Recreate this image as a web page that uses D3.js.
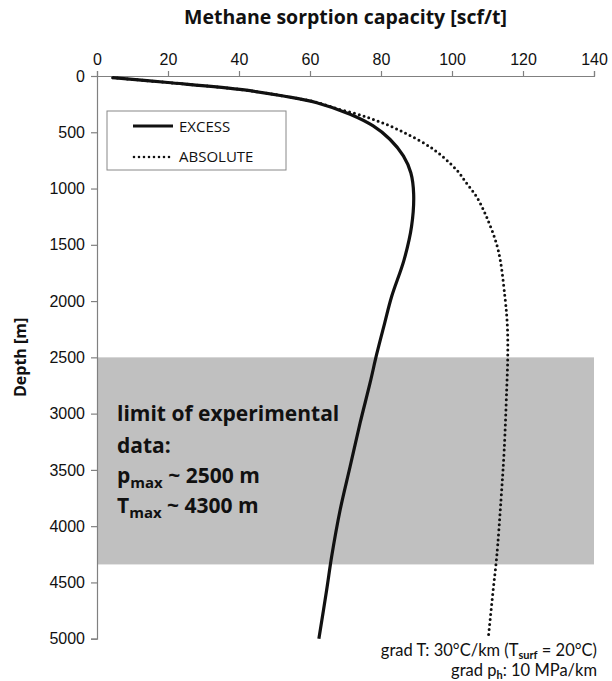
<!DOCTYPE html>
<html lang="en">
<head>
<meta charset="UTF-8">
<title>Methane sorption capacity vs depth</title>
<script src="https://d3js.org/d3.v7.min.js"></script>
<style>
  body { margin: 0; background: #fff; }
  svg { font-family: "Open Sans", "Liberation Sans", sans-serif; }
  .axis path, .axis line { stroke: #808080; stroke-width: 1.2px; }
  .axis text { font-size: 16px; fill: #111; }
</style>
</head>
<body>
<svg width="612" height="681"></svg>
<script>
// x ticks (scf/t) and y ticks (depth, m)
const xTicks = [0, 20, 40, 60, 80, 100, 120, 140];
const yTicks = [0, 500, 1000, 1500, 2000, 2500, 3000, 3500, 4000, 4500, 5000];

// EXCESS sorption capacity
const excessDepth = [15, 58, 124, 178, 237, 340, 444, 562, 710, 860, 1050, 1338, 1634, 1960, 2200, 2470, 2730, 3085, 3470, 3854, 4270, 4565, 5000];
const excessValue = [4.4, 20, 41.5, 52.5, 61.9, 71.3, 77.8, 82.5, 86.3, 88.4, 89.2, 88.6, 86.5, 83.0, 81.0, 78.8, 76.9, 74.1, 71.3, 68.5, 66.1, 64.7, 62.5];

// ABSOLUTE sorption capacity
const absoluteDepth = [15, 58, 124, 178, 237, 281, 365, 485, 650, 835, 953, 1072, 1249, 1545, 1960, 2226, 2493, 2790, 3322, 3766, 4270, 4565, 5000];
const absoluteValue = [4.4, 20, 41.5, 52.5, 62.3, 66.6, 76.0, 85.4, 94.7, 101.3, 104.1, 106.9, 109.7, 113.0, 114.9, 115.6, 115.7, 115.4, 114.7, 113.8, 112.6, 111.6, 110.2];

// limit of experimental data (depth band)
const bandDepth = [2500, 4340];

const svg = d3.select("svg");

const x = d3.scaleLinear().domain([0, 140]).range([97, 594]);
const y = d3.scaleLinear().domain([0, 5000]).range([76, 638.7]);

// grey band
svg.append("rect")
  .attr("x", x(0))
  .attr("y", y(bandDepth[0]))
  .attr("width", x(140) - x(0))
  .attr("height", y(bandDepth[1]) - y(bandDepth[0]))
  .attr("fill", "#c0c0c0");

// band text
const bandText = svg.append("g")
  .attr("font-weight", "bold")
  .attr("font-size", 21)
  .attr("fill", "#111");
bandText.append("text").attr("x", 117).attr("y", 421).text("limit of experimental");
bandText.append("text").attr("x", 117).attr("y", 453).text("data:");
const t3 = bandText.append("text").attr("x", 117).attr("y", 483);
t3.append("tspan").text("p");
t3.append("tspan").attr("font-size", 15).attr("dy", 5).text("max");
t3.append("tspan").attr("dy", -5).text(" ~ 2500 m");
const t4 = bandText.append("text").attr("x", 117).attr("y", 513);
t4.append("tspan").text("T");
t4.append("tspan").attr("font-size", 15).attr("dy", 5).text("max");
t4.append("tspan").attr("dy", -5).text(" ~ 4300 m");

// axes
svg.append("g")
  .attr("class", "axis")
  .attr("transform", `translate(0,${y(0)})`)
  .call(d3.axisTop(x).tickValues(xTicks).tickSize(5).tickSizeOuter(5).tickPadding(6));

svg.append("g")
  .attr("class", "axis")
  .attr("transform", `translate(${x(0)},0)`)
  .call(d3.axisLeft(y).tickValues(yTicks).tickFormat(d3.format("d"))
    .tickSize(6).tickSizeOuter(6).tickPadding(6));

// axis titles
svg.append("text")
  .attr("x", (x(0) + x(140)) / 2)
  .attr("y", 24)
  .attr("text-anchor", "middle")
  .attr("font-weight", "bold")
  .attr("font-size", 19.5)
  .attr("fill", "#111")
  .text("Methane sorption capacity [scf/t]");

svg.append("text")
  .attr("transform", `translate(26,${(y(0) + y(5000)) / 2}) rotate(-90)`)
  .attr("text-anchor", "middle")
  .attr("font-weight", "bold")
  .attr("font-size", 16)
  .attr("fill", "#111")
  .text("Depth [m]");

// curves
const line = d3.line()
  .x(d => x(d[0]))
  .y(d => y(d[1]))
  .curve(d3.curveCatmullRom);

const excess = d3.zip(excessValue, excessDepth);
const absolute = d3.zip(absoluteValue, absoluteDepth);

svg.append("path")
  .datum(absolute)
  .attr("d", line)
  .attr("fill", "none")
  .attr("stroke", "#111")
  .attr("stroke-width", 3)
  .attr("stroke-linecap", "round")
  .attr("stroke-dasharray", "0 5");

svg.append("path")
  .datum(excess)
  .attr("d", line)
  .attr("fill", "none")
  .attr("stroke", "#111")
  .attr("stroke-width", 3.2);

// legend
const legend = svg.append("g");
legend.append("rect")
  .attr("x", 107).attr("y", 111)
  .attr("width", 179).attr("height", 59)
  .attr("fill", "#fff")
  .attr("stroke", "#888")
  .attr("stroke-width", 1);
legend.append("line")
  .attr("x1", 133).attr("x2", 173).attr("y1", 126).attr("y2", 126)
  .attr("stroke", "#111").attr("stroke-width", 3.2);
legend.append("line")
  .attr("x1", 134).attr("x2", 173).attr("y1", 157).attr("y2", 157)
  .attr("stroke", "#111").attr("stroke-width", 2.6)
  .attr("stroke-linecap", "round").attr("stroke-dasharray", "0 5");
legend.append("text").attr("x", 179).attr("y", 132)
  .attr("font-size", 15).attr("fill", "#111").text("EXCESS");
legend.append("text").attr("x", 179).attr("y", 162)
  .attr("font-size", 15).attr("fill", "#111").text("ABSOLUTE");

// bottom note
const note = svg.append("g")
  .attr("text-anchor", "end")
  .attr("font-family", "Lato, 'Open Sans', sans-serif")
  .attr("font-size", 16.5)
  .attr("fill", "#111");
const n1 = note.append("text").attr("x", 597).attr("y", 656);
n1.append("tspan").text("grad T: 30°C/km (T");
n1.append("tspan").attr("font-size", 11).attr("font-weight", "bold").attr("dy", 3).text("surf");
n1.append("tspan").attr("dy", -3).text(" = 20°C)");
const n2 = note.append("text").attr("x", 597).attr("y", 676);
n2.append("tspan").text("grad p");
n2.append("tspan").attr("font-size", 11).attr("font-weight", "bold").attr("dy", 3).text("h");
n2.append("tspan").attr("dy", -3).text(": 10 MPa/km");
</script>
</body>
</html>
